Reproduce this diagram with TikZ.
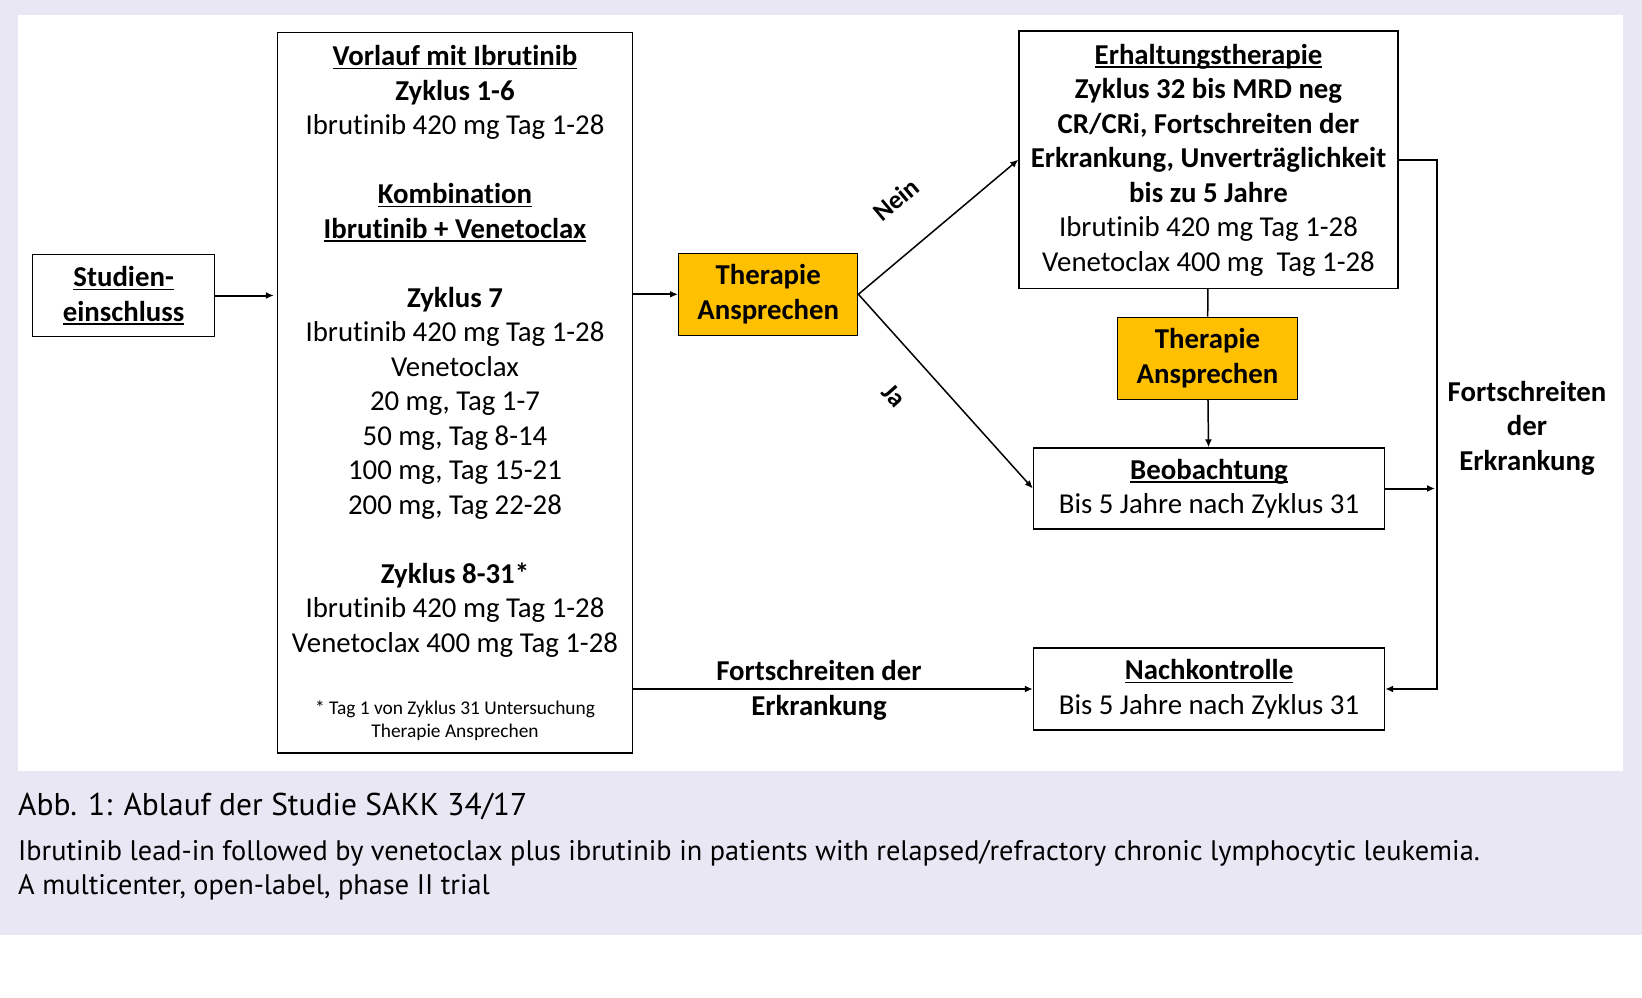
\documentclass[tikz,border=0pt]{standalone}
\usepackage{fontspec}
\setmainfont{Carlito}[Ligatures=NoCommon]
\newfontfamily\capfont{PT Sans}
\usepackage{tikz}
\usetikzlibrary{arrows.meta}
\pgfdeclarelayer{bglayer}
\pgfdeclarelayer{edgelayer}
\pgfdeclarelayer{nodelayer}
\pgfsetlayers{bglayer,edgelayer,nodelayer,main}
\definecolor{lavender}{RGB}{234,231,245}
\definecolor{gold}{RGB}{255,192,0}
\newcommand{\ulbar}[1]{\setbox0\hbox{#1}\rlap{\rule[-3.5pt]{\wd0}{1.5pt}}\box0}
\tikzstyle{box}=[draw=black, line width=1.4pt, fill=white, align=center, inner sep=2pt, font=\fontsize{28.8}{34.5}\selectfont]
\tikzstyle{goldbox}=[box, fill=gold]
\tikzstyle{textnode}=[align=center, inner sep=0pt, font=\bfseries\fontsize{28.8}{34.5}\selectfont]
\tikzstyle{edge}=[draw=black, line width=2pt, -{Latex[length=8pt,width=7pt]}]
\tikzstyle{thinedge}=[draw=black, line width=1.5pt, -{Latex[length=8pt,width=7pt]}]
\tikzstyle{edgetext}=[sloped, inner sep=0pt, font=\bfseries\fontsize{26}{30}\selectfont]
\tikzstyle{caption}=[anchor=west, inner sep=0pt, font=\capfont\fontsize{28.3}{34}\selectfont]

\begin{document}
\begin{tikzpicture}[x=1pt, y=-1pt]
	\useasboundingbox (0, 0) rectangle (1642, 998);
	\begin{pgfonlayer}{bglayer}
		\fill [lavender] (0, 0) rectangle (1642, 935);
		\fill [white] (18, 15) rectangle (1623, 771);
	\end{pgfonlayer}
	\begin{pgfonlayer}{nodelayer}
		\node [style=box, minimum width=182, minimum height=82] (0) at (123.6, 295.5) {\textbf{\ulbar{Studien-}}\\\textbf{\ulbar{einschluss}}};
		\node [style=box, minimum width=355, minimum height=720] (1) at (455, 392.8) {\textbf{\ulbar{Vorlauf mit Ibrutinib}}\\
			\textbf{Zyklus 1-6}\\
			Ibrutinib 420 mg Tag 1-28\\[34.5pt]
			\textbf{\ulbar{Kombination}}\\
			\textbf{\ulbar{Ibrutinib + Venetoclax}}\\[34.5pt]
			\textbf{Zyklus 7}\\
			Ibrutinib 420 mg Tag 1-28\\
			Venetoclax\\
			20 mg, Tag 1-7\\
			50 mg, Tag 8-14\\
			100 mg, Tag 15-21\\
			200 mg, Tag 22-28\\[34.5pt]
			\textbf{Zyklus 8-31*}\\
			Ibrutinib 420 mg Tag 1-28\\
			Venetoclax 400 mg Tag 1-28\\[27.5pt]
			{\fontsize{19.4}{23}\selectfont * Tag 1 von Zyklus 31 Untersuchung}\\[-11.5pt]
			{\fontsize{19.4}{23}\selectfont Therapie Ansprechen}};
		\node [style=goldbox, minimum width=179, minimum height=82] (2) at (768.2, 294.3) {\textbf{Therapie}\\\textbf{Ansprechen}};
		\node [style=box, minimum width=379, minimum height=257, text depth=4pt] (3) at (1208.5, 159.7) {\textbf{\ulbar{Erhaltungstherapie}}\\
			\textbf{Zyklus 32 bis MRD neg}\\
			\textbf{CR/CRi, Fortschreiten der}\\
			\textbf{Erkrankung, Unverträglichkeit}\\
			\textbf{bis zu 5 Jahre}\\
			Ibrutinib 420 mg Tag 1-28\\
			Venetoclax 400 mg\ \ Tag 1-28};
		\node [style=goldbox, minimum width=180, minimum height=82] (4) at (1207.5, 358.2) {\textbf{Therapie}\\\textbf{Ansprechen}};
		\node [style=box, minimum width=351, minimum height=81] (5) at (1209, 488.5) {\textbf{\ulbar{Beobachtung}}\\Bis 5 Jahre nach Zyklus 31};
		\node [style=box, minimum width=351, minimum height=82] (6) at (1209, 689) {\textbf{\ulbar{Nachkontrolle}}\\Bis 5 Jahre nach Zyklus 31};
		\node [style=textnode] (7) at (819, 690.5) {Fortschreiten der\\Erkrankung};
		\node [style=textnode] (8) at (1527, 428) {Fortschreiten\\der\\Erkrankung};
		\node [style=caption] (9) at (18, 806) {\fontsize{31.5}{36}\selectfont Abb. 1: Ablauf der Studie SAKK 34/17};
		\node [style=caption] (10) at (18, 853) {Ibrutinib lead-in followed by venetoclax plus ibrutinib in patients with relapsed/refractory chronic lymphocytic leukemia.};
		\node [style=caption] (11) at (18, 887) {A multicenter, open-label, phase II trial};
		\coordinate (12) at (1437, 689);
		\coordinate (13) at (1435, 488.5);
	\end{pgfonlayer}
	\begin{pgfonlayer}{edgelayer}
		\draw [style=edge, shorten >=3pt] (0) to (1.west |- 0);
		\draw [style=edge] (1.east |- 2) to (2);
		\draw [style=thinedge] (2.east) to node [style=edgetext, above=38pt, pos=0.43] {Nein} (3.west);
		\draw [style=thinedge] (2.east) to node [style=edgetext, below=32pt, pos=0.38] {Ja} (5.west);
		\draw [line width=1.5pt] (3) to (4);
		\draw [style=thinedge] (4) to (5);
		\draw [style=edge] (5) to (13);
		\draw [style=edge] (3) -| (12) to (6);
		\draw [style=edge] (1.east |- 6) to (6);
	\end{pgfonlayer}
\end{tikzpicture}
\end{document}
